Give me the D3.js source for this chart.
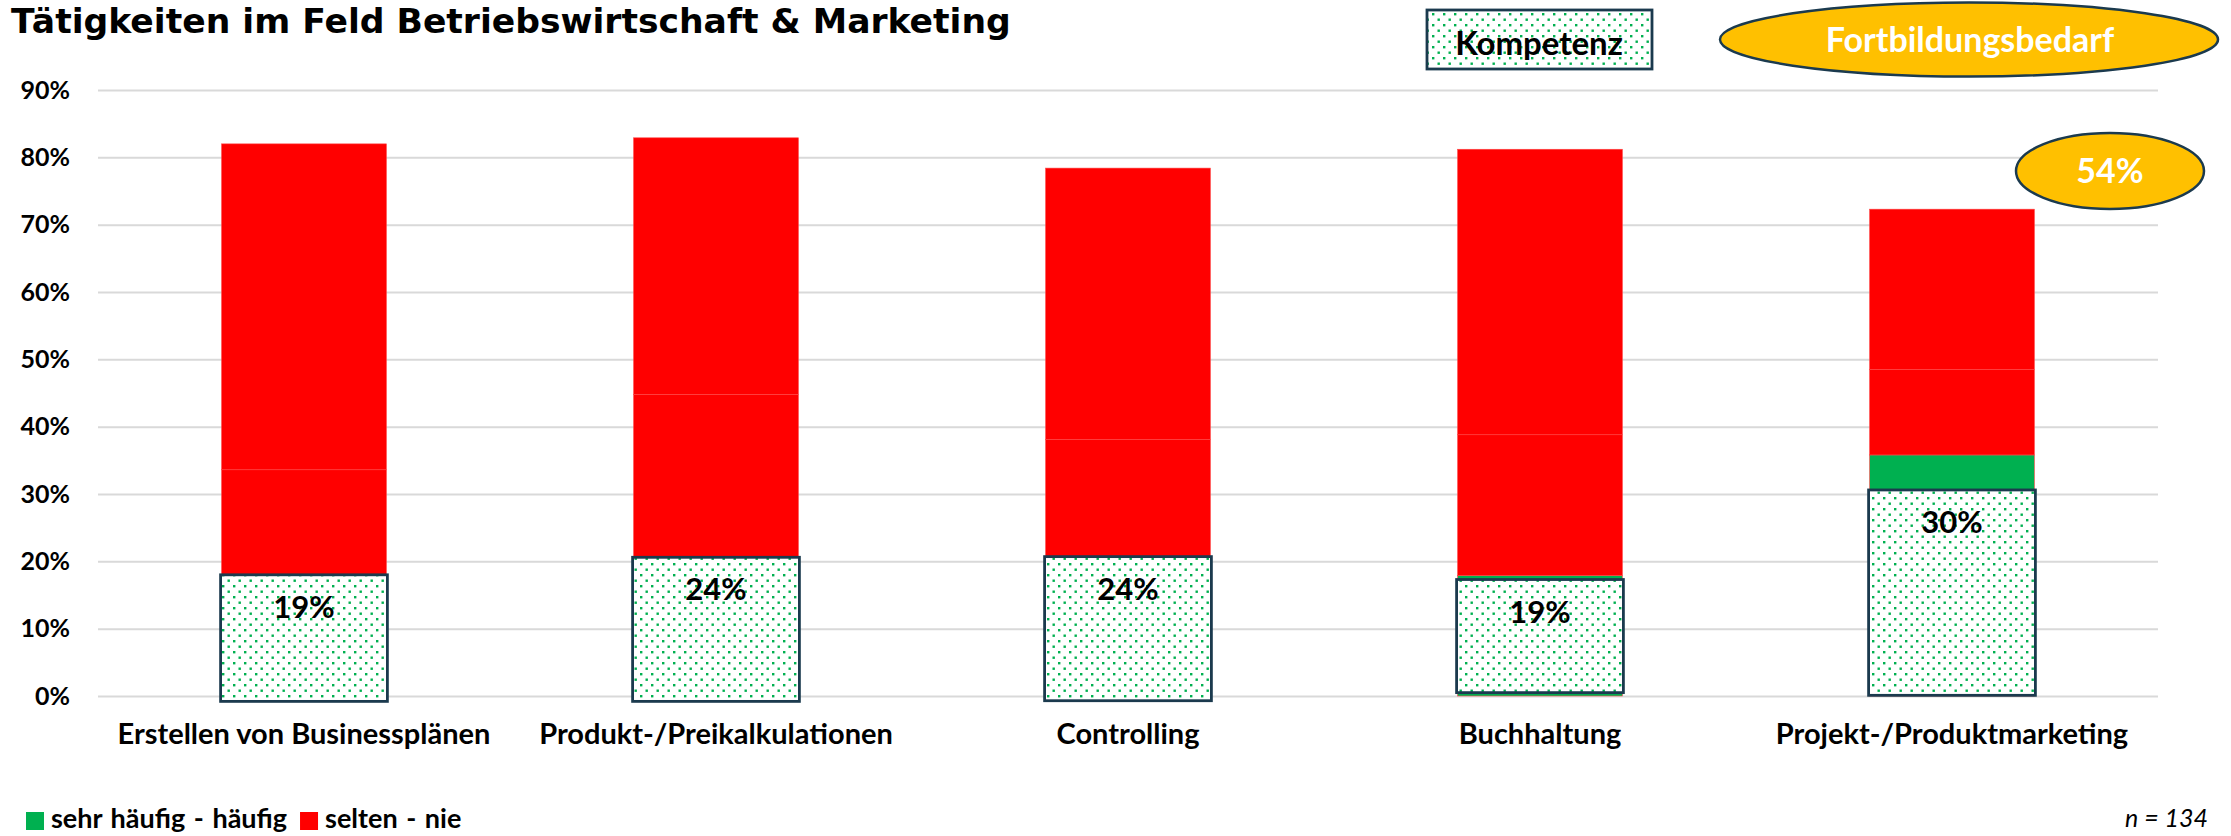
<!DOCTYPE html>
<html>
<head>
<meta charset="utf-8">
<script src="https://cdn.jsdelivr.net/npm/d3@7"></script>
<style>
  body { margin: 0; background: #fff; }
  .axis text { font-family: Lato, sans-serif; font-weight: bold; fill: #000; }
</style>
</head>
<body>
<div class="chart"></div>
<script>
// ---------------------------------- DATA

var categories = [
  "Erstellen von Businessplänen",
  "Produkt-/Preikalkulationen",
  "Controlling",
  "Buchhaltung",
  "Projekt-/Produktmarketing"
];

// stacked parts of each bar (share of answers)
var haeufig = [0.090, 0.140, 0.150, 0.179, 0.358];   // sehr häufig - häufig
var selten  = [0.246, 0.308, 0.231, 0.209, 0.127];   // selten
var nie     = [0.484, 0.381, 0.403, 0.424, 0.238];   // nie

// Kompetenz boxes laid over the bars
var kompetenzTop = [0.180, 0.206, 0.207, 0.173, 0.306];
var kompetenzLow = [-0.008, -0.008, -0.007, 0.005, 0.001];
var kompetenzLabels = ["19%", "24%", "24%", "19%", "30%"];

var yTicks = [0, 0.1, 0.2, 0.3, 0.4, 0.5, 0.6, 0.7, 0.8, 0.9];
var fortbildung = "54%";

var seriesKeys = ["haeufig", "selten", "nie"];
var seriesColors = { haeufig: "#00B050", selten: "#FF0000", nie: "#FF0000" };

// ---------------------------------- VARIABLES

var width = 2231;
var height = 836;
var margin = {left: 98, right: 73, top: 90, bottom: 140};

var tableData = categories.map(function(c, i){
  return {cat: c, haeufig: haeufig[i], selten: selten[i], nie: nie[i]};
});

var svg = d3.select(".chart").append("svg")
  .attr("width", width)
  .attr("height", height);

// dotted fill used for Kompetenz
var pattern = svg.append("defs").append("pattern")
  .attr("id", "dots")
  .attr("patternUnits", "userSpaceOnUse")
  .attr("width", 11)
  .attr("height", 11);
pattern.append("rect").attr("width", 11).attr("height", 11).attr("fill", "#fff");
pattern.append("rect").attr("x", 2).attr("y", 2).attr("width", 2.4).attr("height", 2.4).attr("fill", "#00B050");
pattern.append("rect").attr("x", 7.5).attr("y", 7.5).attr("width", 2.4).attr("height", 2.4).attr("fill", "#00B050");

// ---------------------------------- SCALES

var x = d3.scaleBand()
  .domain(categories)
  .range([margin.left, width - margin.right])
  .paddingInner(0.6)
  .paddingOuter(0.3);

var y = d3.scaleLinear()
  .domain([0, 0.9])
  .range([height - margin.bottom, margin.top]);

// ---------------------------------- AXES

var yAxis = d3.axisLeft(y)
  .tickValues(yTicks)
  .tickFormat(d3.format(".0%"))
  .tickSize(-(width - margin.left - margin.right))
  .tickPadding(28);

var yG = svg.append("g")
  .attr("class", "axis y")
  .attr("transform", "translate(" + margin.left + ",0)")
  .call(yAxis);
yG.select(".domain").remove();
yG.selectAll("line").attr("stroke", "#D9D9D9").attr("stroke-width", 2);
yG.selectAll("text").style("font-size", "25px");

var xAxis = d3.axisBottom(x).tickSize(0).tickPadding(27);
var xG = svg.append("g")
  .attr("class", "axis x")
  .attr("transform", "translate(0," + (height - margin.bottom) + ")")
  .call(xAxis);
xG.select(".domain").remove();
xG.selectAll("text").style("font-size", "29px");

// ---------------------------------- STACKED BARS

var stacked = d3.stack().keys(seriesKeys)(tableData);

svg.append("g").selectAll("g")
  .data(stacked)
  .enter().append("g")
    .attr("fill", function(d){ return seriesColors[d.key]; })
  .selectAll("rect")
  .data(function(d){ return d; })
  .enter().append("rect")
    .attr("x", function(d){ return x(d.data.cat); })
    .attr("y", function(d){ return y(d[1]); })
    .attr("width", x.bandwidth())
    .attr("height", function(d){ return y(d[0]) - y(d[1]); })
    .attr("stroke", "#ff4646")
    .attr("stroke-width", 0.6);

// ---------------------------------- KOMPETENZ BOXES

var komp = svg.append("g").selectAll("g")
  .data(categories)
  .enter().append("g");

komp.append("rect")
  .attr("x", function(d){ return x(d) - 1; })
  .attr("y", function(d, i){ return y(kompetenzTop[i]); })
  .attr("width", x.bandwidth() + 2)
  .attr("height", function(d, i){ return y(kompetenzLow[i]) - y(kompetenzTop[i]); })
  .attr("fill", "url(#dots)")
  .attr("stroke", "#1B3A4E")
  .attr("stroke-width", 2.8);

komp.append("text")
  .attr("x", function(d){ return x(d) + x.bandwidth() / 2; })
  .attr("y", function(d, i){ return y(kompetenzTop[i]) + 43; })
  .attr("text-anchor", "middle")
  .style("font-family", "Lato, sans-serif")
  .style("font-weight", "bold")
  .style("font-size", "31px")
  .text(function(d, i){ return kompetenzLabels[i]; });

// ---------------------------------- TITLE + SHAPES

svg.append("text")
  .attr("x", 11)
  .attr("y", 33)
  .style("font-family", "DejaVu Sans, sans-serif")
  .style("font-weight", "bold")
  .style("font-size", "34.6px")
  .text("Tätigkeiten im Feld Betriebswirtschaft & Marketing");

svg.append("rect")
  .attr("x", 1427).attr("y", 10)
  .attr("width", 225).attr("height", 59)
  .attr("fill", "url(#dots)")
  .attr("stroke", "#1B3A4E")
  .attr("stroke-width", 2.8);
svg.append("text")
  .attr("x", 1539).attr("y", 55)
  .attr("text-anchor", "middle")
  .style("font-family", "Lato, sans-serif")
  .style("font-weight", "bold")
  .style("font-size", "33px")
  .text("Kompetenz");

svg.append("ellipse")
  .attr("cx", 1969).attr("cy", 39.5)
  .attr("rx", 249).attr("ry", 37)
  .attr("fill", "#FFC000")
  .attr("stroke", "#1B3A4E")
  .attr("stroke-width", 2.5);
svg.append("text")
  .attr("x", 1970).attr("y", 52)
  .attr("text-anchor", "middle")
  .attr("fill", "#fff")
  .style("font-family", "Lato, sans-serif")
  .style("font-weight", "bold")
  .style("font-size", "34px")
  .text("Fortbildungsbedarf");

svg.append("ellipse")
  .attr("cx", 2110).attr("cy", 171)
  .attr("rx", 94).attr("ry", 38)
  .attr("fill", "#FFC000")
  .attr("stroke", "#1B3A4E")
  .attr("stroke-width", 2.5);
svg.append("text")
  .attr("x", 2110).attr("y", 183)
  .attr("text-anchor", "middle")
  .attr("fill", "#fff")
  .style("font-family", "Lato, sans-serif")
  .style("font-weight", "bold")
  .style("font-size", "34px")
  .text(fortbildung);

// ---------------------------------- LEGEND

var legendItems = [
  {label: "sehr häufig - häufig", color: "#00B050"},
  {label: "selten - nie", color: "#FF0000"}
];
var legendX = 26;
legendItems.forEach(function(d){
  var g = svg.append("g").attr("transform", "translate(" + legendX + ",812)");
  g.append("rect")
    .attr("width", 18).attr("height", 18)
    .attr("fill", d.color);
  var t = g.append("text")
    .attr("x", 25).attr("y", 16)
    .style("font-family", "Lato, sans-serif")
    .style("font-weight", "bold")
    .style("font-size", "27px")
    .style("word-spacing", "2px")
    .text(d.label);
  legendX += 25 + t.node().getComputedTextLength() + 13;
});

svg.append("text")
  .attr("x", 2208).attr("y", 827)
  .attr("text-anchor", "end")
  .style("font-family", "Lato, sans-serif")
  .style("font-style", "italic")
  .style("font-size", "25px")
  .text("n = 134");
</script>
</body>
</html>
